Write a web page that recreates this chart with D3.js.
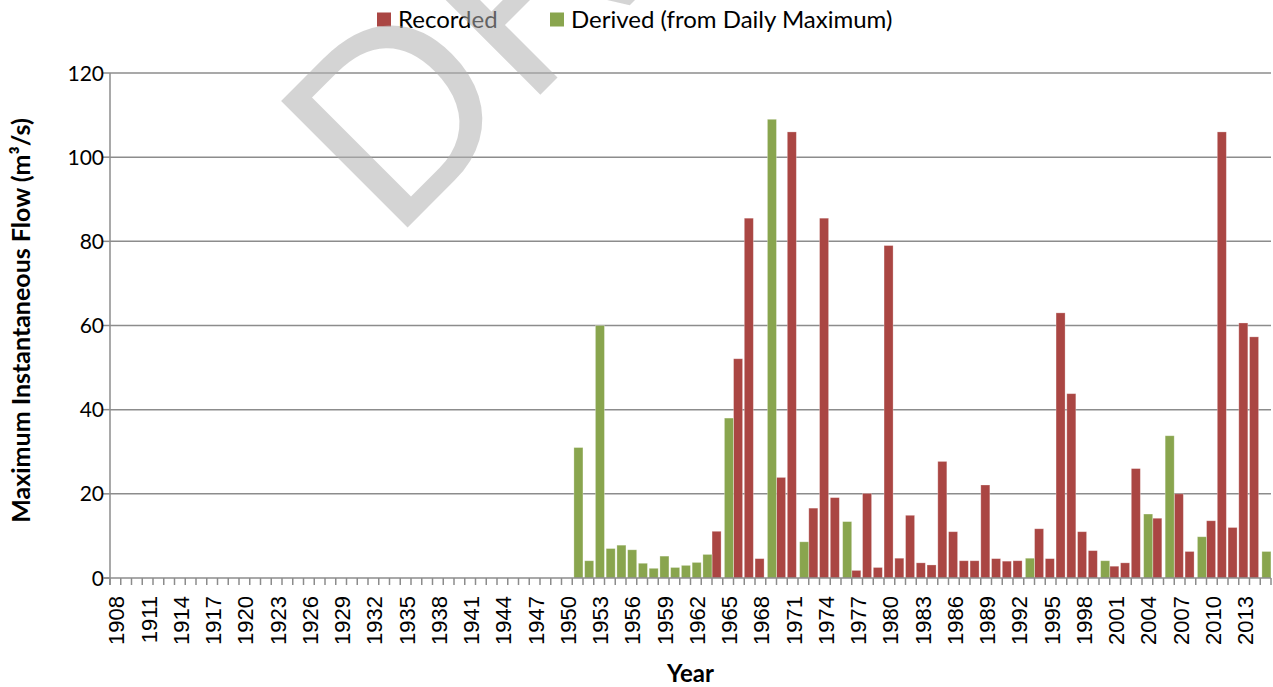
<!DOCTYPE html>
<html>
<head>
<meta charset="utf-8">
<script src="https://cdn.jsdelivr.net/npm/d3@7"></script>
<style>
  html, body { margin: 0; padding: 0; background: #ffffff; }
  svg { display: block; }
</style>
</head>
<body>
<svg id="chart" width="1273" height="687"></svg>
<script>
// Annual maximum instantaneous flow, 1908-2015
const firstYear = 1908;
const lastYear = 2015;
const years = d3.range(firstYear, lastYear + 1);

const yearLabels = [1908, 1911, 1914, 1917, 1920, 1923, 1926, 1929, 1932, 1935, 1938, 1941,
  1944, 1947, 1950, 1953, 1956, 1959, 1962, 1965, 1968, 1971, 1974, 1977, 1980, 1983,
  1986, 1989, 1992, 1995, 1998, 2001, 2004, 2007, 2010, 2013];
const flowTicks = [0, 20, 40, 60, 80, 100, 120];

const seriesNames = ["Recorded", "Derived (from Daily Maximum)"];
const seriesColors = ["#AA4643", "#89A54E"];

// Recorded peaks [year, m3/s]
const recorded = [
  [1964, 11.1], [1966, 52.1], [1967, 85.5], [1968, 4.6], [1970, 23.9], [1971, 106],
  [1973, 16.6], [1974, 85.5], [1975, 19.1], [1977, 1.8], [1978, 20.1], [1979, 2.5],
  [1980, 79.0], [1981, 4.7], [1982, 14.9], [1983, 3.6], [1984, 3.1], [1985, 27.7],
  [1986, 11.0], [1987, 4.1], [1988, 4.1], [1989, 22.1], [1990, 4.6], [1991, 4.0],
  [1992, 4.1], [1994, 11.7], [1995, 4.6], [1996, 63.0], [1997, 43.8], [1998, 11.0],
  [1999, 6.5], [2001, 2.8], [2002, 3.6], [2003, 26.0], [2005, 14.2], [2007, 20.0],
  [2008, 6.3], [2010, 13.6], [2011, 106], [2012, 12.0], [2013, 60.6], [2014, 57.3]
];

// Peaks derived from the daily maximum [year, m3/s]
const derived = [
  [1951, 31.0], [1952, 4.1], [1953, 60.0], [1954, 7.0], [1955, 7.8], [1956, 6.7],
  [1957, 3.5], [1958, 2.3], [1959, 5.2], [1960, 2.5], [1961, 3.0], [1962, 3.7],
  [1963, 5.6], [1965, 38.0], [1969, 109], [1972, 8.6], [1976, 13.4], [1993, 4.7],
  [2000, 4.1], [2004, 15.2], [2006, 33.8], [2009, 9.8], [2015, 6.3]
];

const svg = d3.select("#chart");
const W = 1273, H = 687;
const plot = { left: 110, right: 1271, top: 73, bottom: 578 };

const gridColor = "#8c8c8c";
const calibriLike = "Lato, 'Open Sans', sans-serif";

const x = d3.scaleBand()
  .domain(years)
  .range([plot.left, plot.right])
  .paddingInner(0.16)
  .paddingOuter(0.08);

const seriesOffset = d3.scalePoint().domain(seriesNames).range([-0.8, 0.8]);

const y = d3.scaleLinear().domain([0, 120]).range([plot.bottom, plot.top]);

// horizontal gridlines
svg.append("g")
  .selectAll("line")
  .data(flowTicks.filter(t => t > 0))
  .join("line")
  .attr("x1", plot.left).attr("x2", plot.right)
  .attr("y1", d => y(d)).attr("y2", d => y(d))
  .attr("stroke", gridColor).attr("stroke-width", 1.5);

// bars
const seriesData = [recorded, derived];
seriesData.forEach((rows, i) => {
  const name = seriesNames[i];
  svg.append("g")
    .selectAll("rect")
    .data(rows)
    .join("rect")
    .attr("x", d => x(d[0]) + seriesOffset(name))
    .attr("width", x.bandwidth())
    .attr("y", d => y(d[1]))
    .attr("height", d => y(0) - y(d[1]))
    .attr("fill", seriesColors[i])
    .attr("stroke", "rgba(255,255,255,0.35)")
    .attr("stroke-width", 0.8);
});

// y axis
const yAxis = svg.append("g");
yAxis.append("line")
  .attr("x1", plot.left).attr("x2", plot.left)
  .attr("y1", plot.top).attr("y2", plot.bottom + 7)
  .attr("stroke", gridColor).attr("stroke-width", 1.5);
yAxis.selectAll("line.tick")
  .data(flowTicks)
  .join("line").attr("class", "tick")
  .attr("x1", plot.left - 7).attr("x2", plot.left)
  .attr("y1", d => y(d)).attr("y2", d => y(d))
  .attr("stroke", gridColor).attr("stroke-width", 1.5);
yAxis.selectAll("text")
  .data(flowTicks)
  .join("text")
  .attr("x", plot.left - 6)
  .attr("y", d => y(d))
  .attr("dy", "0.36em")
  .attr("text-anchor", "end")
  .attr("font-family", calibriLike)
  .attr("font-size", 21)
  .attr("fill", "#000")
  .text(d => d);

// x axis
const xAxis = svg.append("g");
xAxis.append("line")
  .attr("x1", plot.left - 7).attr("x2", plot.right)
  .attr("y1", plot.bottom).attr("y2", plot.bottom)
  .attr("stroke", gridColor).attr("stroke-width", 1.5);
const gap = x.step() - x.bandwidth();
const boundaries = years.map(yr => x(yr) - gap / 2).concat([plot.right]);
xAxis.selectAll("line.tick")
  .data(boundaries)
  .join("line").attr("class", "tick")
  .attr("x1", d => d).attr("x2", d => d)
  .attr("y1", plot.bottom).attr("y2", plot.bottom + 7)
  .attr("stroke", gridColor).attr("stroke-width", 1.5);
xAxis.selectAll("text")
  .data(yearLabels)
  .join("text")
  .attr("transform", d => `translate(${x(d) + x.bandwidth() / 2 + 1},${plot.bottom + 18}) rotate(-90)`)
  .attr("dy", "0.36em")
  .attr("text-anchor", "end")
  .attr("font-family", "'Liberation Sans', Arial, sans-serif")
  .attr("font-size", 22)
  .attr("fill", "#000")
  .text(d => d);

// axis titles
svg.append("text")
  .attr("transform", `translate(30,${(plot.top + plot.bottom) / 2 - 5}) rotate(-90)`)
  .attr("text-anchor", "middle")
  .attr("font-family", calibriLike)
  .attr("font-weight", "bold")
  .attr("font-size", 25)
  .attr("fill", "#000")
  .text("Maximum Instantaneous Flow (m³/s)");

svg.append("text")
  .attr("x", (plot.left + plot.right) / 2)
  .attr("y", 682)
  .attr("text-anchor", "middle")
  .attr("font-family", calibriLike)
  .attr("font-weight", "bold")
  .attr("font-size", 24)
  .attr("fill", "#000")
  .text("Year");

// legend
const legendX = [377, 550];
const legend = svg.append("g");
seriesNames.forEach((name, i) => {
  legend.append("rect")
    .attr("x", legendX[i]).attr("y", 12.5)
    .attr("width", 14).attr("height", 14)
    .attr("fill", seriesColors[i]);
  legend.append("text")
    .attr("x", legendX[i] + 21).attr("y", 28)
    .attr("font-family", calibriLike)
    .attr("font-size", 24)
    .attr("fill", "#000")
    .text(name);
});

// draft stamp across the top
svg.append("text")
  .attr("transform", "translate(407,228) rotate(-45)")
  .attr("x", -20.5)
  .attr("y", 0)
  .attr("font-family", "'Liberation Sans', Arial, sans-serif")
  .attr("font-size", 260)
  .attr("fill", "#b0b0b0")
  .attr("fill-opacity", 0.55)
  .text("DRAFT");
</script>
</body>
</html>
